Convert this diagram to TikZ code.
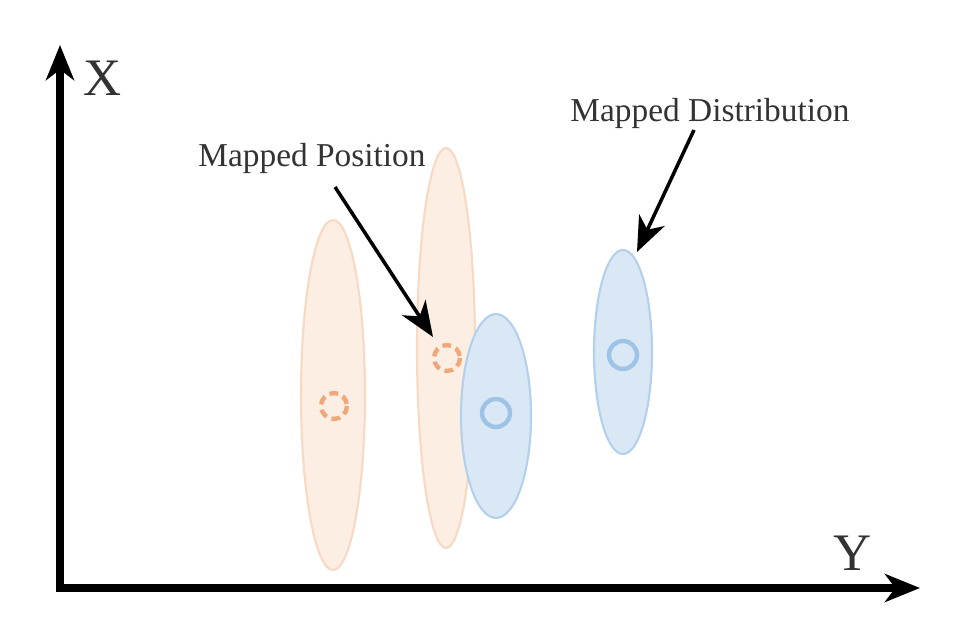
\documentclass[tikz,border=0pt]{standalone}
\usepackage{fontspec}
\setmainfont{Liberation Serif}
\usetikzlibrary{arrows.meta}
\begin{document}
\begin{tikzpicture}[x=0.02cm, y=-0.02cm, >={Stealth[length=20pt,width=16pt,inset=6pt]}]
        % ----------- colours -----------
        \definecolor{posfill}{HTML}{FCEEE3}
        \definecolor{posline}{HTML}{F8D9C3}
        \definecolor{posmark}{HTML}{F0A77A}
        \definecolor{distfill}{HTML}{DAE8F5}
        \definecolor{distline}{HTML}{B3D0EC}
        \definecolor{distmark}{HTML}{9DC3E6}
        \definecolor{txt}{HTML}{333333}
        \tikzset{
            posell/.style={fill=posfill, draw=posline, line width=1.2pt},
            distell/.style={fill=distfill, draw=distline, line width=1.2pt},
            posmk/.style={draw=posmark, line width=2.5pt, dash pattern=on 5pt off 3pt},
            distmk/.style={draw=distmark, line width=2.5pt},
            lbl/.style={text=txt, font=\fontsize{19}{22}\selectfont, inner sep=0pt},
            axlbl/.style={text=txt, font=\fontsize{30}{34}\selectfont, inner sep=0pt},
            pointer/.style={->, line width=2pt}
        }
        \useasboundingbox (0,0) rectangle (967,624);

        % axes
        \coordinate (O) at (60,588);
        \draw[->, line width=4pt, line cap=rect] (O) -- (60,45);
        \draw[->, line width=4pt, line cap=rect] (O) -- (920,588);
        \node[axlbl] (xlab) at (103,78) {X};
        \node[axlbl] (ylab) at (853,553) {Y};

        % ellipses
        \draw[posell] (333,395) ellipse [x radius=32, y radius=175];
        \draw[posell] (446,348) ellipse [x radius=29, y radius=200];
        \draw[distell] (496,416) ellipse [x radius=35, y radius=102];
        \draw[distell] (623,352) ellipse [x radius=29, y radius=102];

        % marks
        \draw[posmk] (334,406) circle [radius=13];
        \draw[posmk] (447,358) circle [radius=13];
        \draw[distmk] (496,413) circle [radius=14];
        \draw[distmk] (623,355) circle [radius=14];

        % labels and pointers
        \node[lbl] (mpos) at (312,158) {Mapped Position};
        \node[lbl] (mdist) at (710,113) {Mapped Distribution};
        \coordinate (posend) at (433,337);
        \coordinate (distend) at (637,252);
        \draw[pointer] (335,187) -- (posend);
        \draw[pointer] (694,130) -- (distend);
\end{tikzpicture}
\end{document}
